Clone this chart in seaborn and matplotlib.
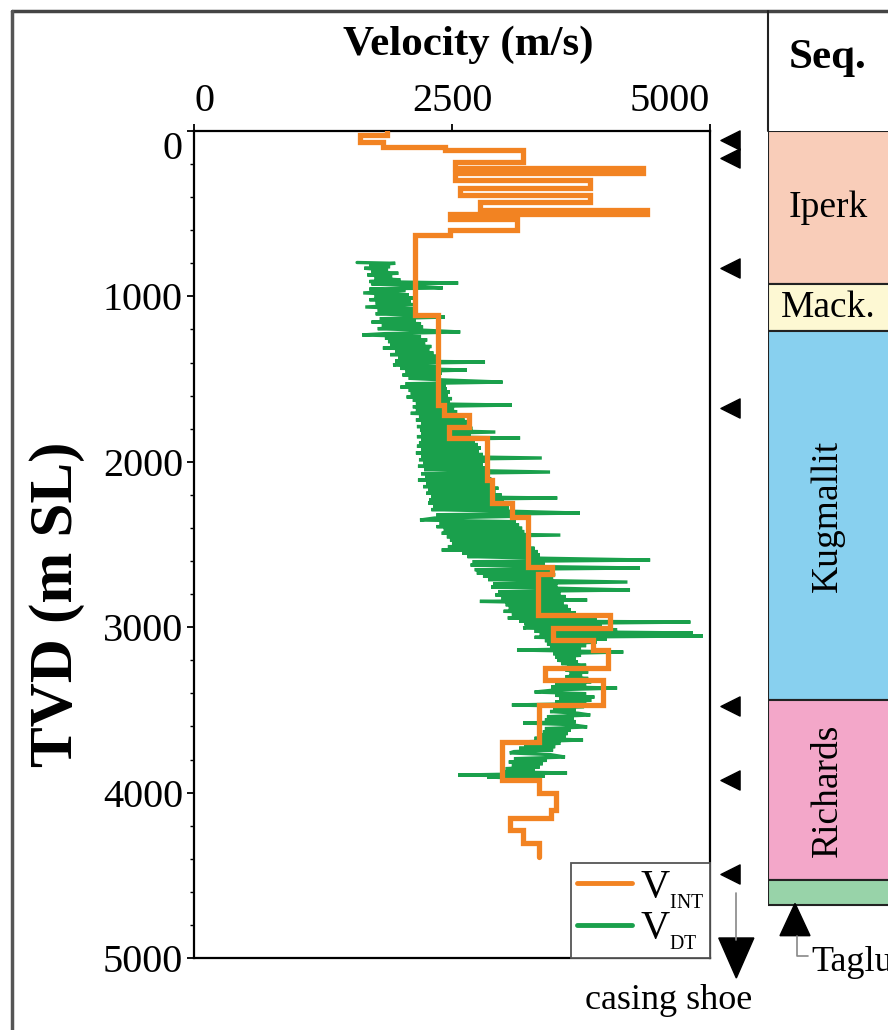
import numpy as np
import matplotlib
matplotlib.use("Agg")
import matplotlib.pyplot as plt
from matplotlib.lines import Line2D
import seaborn as sns

# interval velocity from checkshots: layer tops (m) and velocity (m/s)
int_top = [0, 25, 65, 95, 115, 190, 225, 255, 295, 345,
           385, 430, 475, 500, 535, 600, 630, 1110, 1656, 1717,
           1790, 1856, 2110, 2250, 2333, 2636, 2680, 2926, 3005, 3077,
           3137, 3245, 3318, 3470, 3694, 3924, 4002, 4105, 4153, 4226,
           4305]
int_vel = [1870, 1610, 1830, 2430, 3190, 2530, 4350, 2530, 3840, 2580,
           3840, 2770, 4390, 2480, 3130, 2480, 2140, 2360, 2420, 2660,
           2470, 2840, 2890, 3080, 3240, 3470, 3330, 4030, 3480, 3870,
           4010, 3400, 3960, 3340, 2980, 3340, 3510, 3460, 3060, 3190,
           3340]
int_base = 4390

# sonic log velocity (V_DT), depth (m) and velocity (m/s)
dt_depth = [795, 800, 810, 820, 830, 840, 850, 860, 870, 880,
            890, 900, 910, 919, 925, 935, 949, 955, 965, 979,
            990, 1000, 1010, 1020, 1030, 1040, 1050, 1064, 1075, 1085,
            1095, 1105, 1115, 1125, 1135, 1145, 1155, 1165, 1175, 1185,
            1195, 1205, 1215, 1225, 1233, 1243, 1253, 1263, 1273, 1283,
            1293, 1303, 1312, 1322, 1332, 1342, 1352, 1362, 1372, 1382,
            1390, 1397, 1405, 1415, 1425, 1435, 1445, 1455, 1465, 1475,
            1485, 1495, 1505, 1518, 1528, 1538, 1548, 1558, 1568, 1578,
            1588, 1598, 1608, 1618, 1628, 1638, 1648, 1657, 1667, 1677,
            1687, 1697, 1707, 1717, 1727, 1737, 1747, 1757, 1767, 1777,
            1787, 1797, 1808, 1820, 1830, 1840, 1848, 1856, 1866, 1876,
            1886, 1896, 1906, 1916, 1926, 1936, 1946, 1956, 1966, 1977,
            1987, 1997, 2007, 2017, 2027, 2037, 2047, 2062, 2072, 2082,
            2092, 2102, 2110, 2120, 2130, 2140, 2150, 2160, 2170, 2180,
            2190, 2200, 2210, 2219, 2229, 2239, 2249, 2259, 2269, 2279,
            2289, 2299, 2310, 2320, 2330, 2340, 2352, 2362, 2372, 2382,
            2392, 2402, 2412, 2422, 2432, 2443, 2453, 2463, 2473, 2483,
            2493, 2503, 2513, 2523, 2533, 2543, 2553, 2563, 2573, 2583,
            2594, 2604, 2614, 2624, 2634, 2642, 2652, 2662, 2672, 2682,
            2692, 2702, 2712, 2727, 2737, 2747, 2757, 2765, 2775, 2785,
            2795, 2805, 2815, 2825, 2836, 2844, 2854, 2864, 2874, 2884,
            2894, 2904, 2914, 2924, 2934, 2944, 2954, 2962, 2969, 2979,
            2989, 2997, 3005, 3015, 3025, 3035, 3045, 3053, 3061, 3071,
            3081, 3091, 3101, 3111, 3121, 3131, 3138, 3150, 3160, 3170,
            3180, 3190, 3200, 3210, 3220, 3230, 3240, 3250, 3260, 3270,
            3280, 3290, 3300, 3310, 3320, 3330, 3340, 3350, 3360, 3368,
            3378, 3392, 3402, 3412, 3422, 3432, 3442, 3452, 3462, 3470,
            3480, 3490, 3500, 3510, 3520, 3531, 3541, 3551, 3561, 3571,
            3579, 3589, 3603, 3613, 3623, 3633, 3643, 3653, 3663, 3672,
            3682, 3692, 3702, 3712, 3722, 3732, 3742, 3752, 3760, 3770,
            3785, 3795, 3805, 3815, 3825, 3835, 3845, 3855, 3865, 3875,
            3881, 3888, 3894, 3900, 3906, 3915, 3925]
dt_vel = [1580, 1950, 1700, 1900, 1650, 1880, 1720, 1980, 1680, 1920,
          1750, 2000, 1700, 2560, 1720, 2100, 2410, 1700, 2050, 1640,
          2080, 1750, 2120, 1700, 2100, 1760, 2150, 1660, 2120, 1780,
          2140, 1760, 2180, 2430, 1800, 2150, 1720, 2200, 1820, 2220,
          1780, 2250, 2580, 1850, 1630, 2200, 1850, 2260, 1880, 2240,
          1900, 2300, 1830, 2280, 1950, 2320, 1900, 2350, 1980, 2340,
          1950, 2820, 2000, 1930, 2380, 2000, 2645, 2050, 2400, 2020,
          2380, 2080, 2420, 2990, 2050, 2440, 2000, 2450, 2080, 2480,
          2100, 2460, 2060, 2500, 2120, 2480, 2150, 3080, 2120, 2520,
          2150, 2550, 2100, 2600, 2180, 2620, 2150, 2660, 2200, 2640,
          2160, 2700, 2190, 2920, 2200, 2680, 2160, 3160, 2200, 2720,
          2180, 2750, 2160, 2780, 2200, 2760, 2150, 2800, 2200, 3370,
          2180, 2820, 2220, 2800, 2170, 2850, 2230, 3450, 2200, 2860,
          2240, 2880, 2170, 2900, 2250, 2880, 2220, 2950, 2270, 2920,
          2250, 2980, 2300, 3520, 2280, 3000, 2270, 3020, 2320, 3050,
          2300, 3080, 3740, 2350, 3100, 2330, 2190, 3120, 2380, 3150,
          2350, 3180, 2420, 3200, 2400, 3550, 2450, 3220, 2480, 3250,
          2500, 3260, 2460, 3300, 2400, 3330, 2600, 3350, 2650, 3380,
          4420, 2700, 3400, 2680, 3420, 4320, 2720, 3450, 2740, 3500,
          2800, 3480, 2850, 4200, 2900, 3520, 2880, 3560, 4225, 2950,
          3550, 2920, 3600, 2980, 3810, 2770, 3580, 3020, 3620, 3050,
          3650, 3000, 3700, 3080, 3750, 3040, 3900, 3150, 4810, 3200,
          3950, 3250, 3190, 4100, 3300, 4835, 3350, 4930, 3300, 4000,
          3400, 3900, 3420, 3800, 3450, 3750, 3130, 4160, 3480, 3750,
          3500, 3700, 3520, 3720, 3560, 3800, 3620, 3780, 3600, 3820,
          3640, 3760, 3600, 3820, 3540, 3850, 3500, 3800, 3460, 4100,
          3520, 3300, 3800, 3500, 3880, 3540, 3850, 3500, 3800, 3080,
          3780, 3480, 3700, 3450, 3720, 3840, 3420, 3680, 3400, 3700,
          3190, 3650, 3810, 3400, 3650, 3380, 3620, 3350, 3600, 3300,
          3770, 3250, 3550, 3200, 3500, 3150, 3480, 3100, 3060, 3450,
          3595, 3100, 3420, 3050, 3380, 3080, 3350, 3020, 3300, 3000,
          3615, 3100, 2560, 3400, 2840, 3300, 3050]

# sequences (m)
seq_names = ["Iperk", "Mack.", "Kugmallit", "Richards", ""]
seq_top = [0, 925, 1210, 3440, 4530]
seq_base = [925, 1210, 3440, 4530, 4680]
seq_colors = ["#F9CDB9", "#FDF8D3", "#88D0EF", "#F3A7C9", "#98D3A9"]

# casing points (m)
casing_depths = [55, 163, 828, 1675, 3476, 3924, 4492]

orange = "#F28322"
green = "#1AA04C"

sns.set_style("ticks")
plt.rcParams["font.family"] = ["Liberation Serif", "DejaVu Serif"]
plt.rcParams["mathtext.fontset"] = "custom"
plt.rcParams["mathtext.rm"] = "Liberation Serif"
for key in ["text.color", "axes.labelcolor", "xtick.color", "ytick.color",
            "axes.edgecolor"]:
    plt.rcParams[key] = "black"

fig = plt.figure(figsize=(8.88, 10.30), dpi=100)
ax = fig.add_axes([194 / 888, 1 - 958 / 1030, 516 / 888, 827 / 1030])

# step curve for the interval velocity
bottoms = int_top[1:] + [int_base]
step_y = np.column_stack([int_top, bottoms]).ravel()
step_x = np.repeat(int_vel, 2)

sns.lineplot(x=dt_vel, y=dt_depth, sort=False, estimator=None, color=green,
             lw=2.4, ax=ax, label=r"V$_{{}_{\mathrm{DT}}}$", zorder=2)
sns.lineplot(x=step_x, y=step_y, sort=False, estimator=None, color=orange,
             lw=3.8, ax=ax, label=r"V$_{{}_{\mathrm{INT}}}$", zorder=3)
for ln in ax.lines:
    ln.set_solid_joinstyle("miter")

ax.set_xlim(0, 5000)
ax.set_ylim(5000, 0)
ax.xaxis.tick_top()
ax.set_xticks([0, 2500, 5000])
ax.set_yticks(range(0, 5001, 1000))
ax.set_yticks(range(0, 5001, 200), minor=True)
ax.tick_params(axis="both", which="major", labelsize=29, length=5, width=1.3,
               pad=3, colors="black")
ax.tick_params(axis="y", which="minor", length=3, width=1)
xl = ax.get_xticklabels()
xl[0].set_ha("left")
xl[-1].set_ha("right")
ax.get_yticklabels()[0].set_va("top")
for s in ax.spines.values():
    s.set_linewidth(1.6)
    s.set_color("black")

ax.set_xlabel("")
ax.set_ylabel("TVD (m SL)", fontsize=44, fontweight="bold")
ax.yaxis.set_label_coords(-0.212, 0.428)
ax.text(0.531, 1.104, "Velocity (m/s)", transform=ax.transAxes, ha="center",
        va="center", fontsize=31, fontweight="bold")

handles, labels = ax.get_legend_handles_labels()
leg = ax.legend(handles[::-1], labels[::-1], loc="lower right", fontsize=29,
                frameon=True, fancybox=False, framealpha=1, edgecolor="#555555",
                borderaxespad=0, handlelength=1.35, handletextpad=0.2,
                labelspacing=0.0, borderpad=0.15)
leg.get_frame().set_linewidth(1.3)
for h in leg.get_lines():
    h.set_linewidth(3.5)

# casing markers on the right edge
tr = ax.get_yaxis_transform()
ax.scatter([1.039] * len(casing_depths), casing_depths, marker="<", s=190,
           color="black", transform=tr, clip_on=False, zorder=5)
ax.plot([1.051, 1.051], [4607, 4890], color="#888888", lw=1.2, transform=tr,
        clip_on=False)
ax.fill([1.017, 1.085, 1.051], [4879, 4879, 5121], color="black",
        transform=tr, clip_on=False)
ax.text(0.9205, 5254, "casing shoe", transform=tr, ha="center", va="center",
        fontsize=26, clip_on=False)

# sequence column
ax2 = fig.add_axes([768 / 888, 1 - 958 / 1030, 240 / 888, 827 / 1030])
ax2.set_xlim(0, 1)
ax2.set_ylim(5000, 0)
ax2.axis("off")
for name, top, base, c in zip(seq_names, seq_top, seq_base, seq_colors):
    ax2.axhspan(top, base, xmin=0, xmax=1, facecolor=c, edgecolor="#222222",
                lw=1.5)
    if name:
        rot = 90 if base - top > 1000 else 0
        ax2.text(0.25, (top + base) / 2, name, ha="center", va="center",
                 rotation=rot, fontsize=27)

tr2 = ax2.get_yaxis_transform()
ax2.fill([0.05, 0.175, 0.1125], [4865, 4865, 4670], color="black",
         transform=tr2, clip_on=False)
ax2.plot([0.12, 0.12, 0.167], [4865, 4985, 4985], color="#888888", lw=1.2,
         transform=tr2, clip_on=False)
ax2.text(0.18, 5030, "Taglu", transform=tr2, ha="left", va="center",
         fontsize=26, clip_on=False)

fig.text(828 / 888, 1 - 58 / 1030, "Seq.", ha="center", va="center",
         fontsize=31, fontweight="bold")

# outer frame and column separator
fig.add_artist(Line2D([12 / 888, 1], [1 - 11 / 1030, 1 - 11 / 1030],
                      color="#444444", lw=2.5, transform=fig.transFigure))
fig.add_artist(Line2D([12 / 888, 12 / 888], [0, 1 - 11 / 1030],
                      color="#555555", lw=2.5, transform=fig.transFigure))
fig.add_artist(Line2D([768 / 888, 768 / 888], [1 - 11 / 1030, 1 - 131 / 1030],
                      color="#222222", lw=1.5, transform=fig.transFigure))

fig.savefig("out.png", dpi=100)
